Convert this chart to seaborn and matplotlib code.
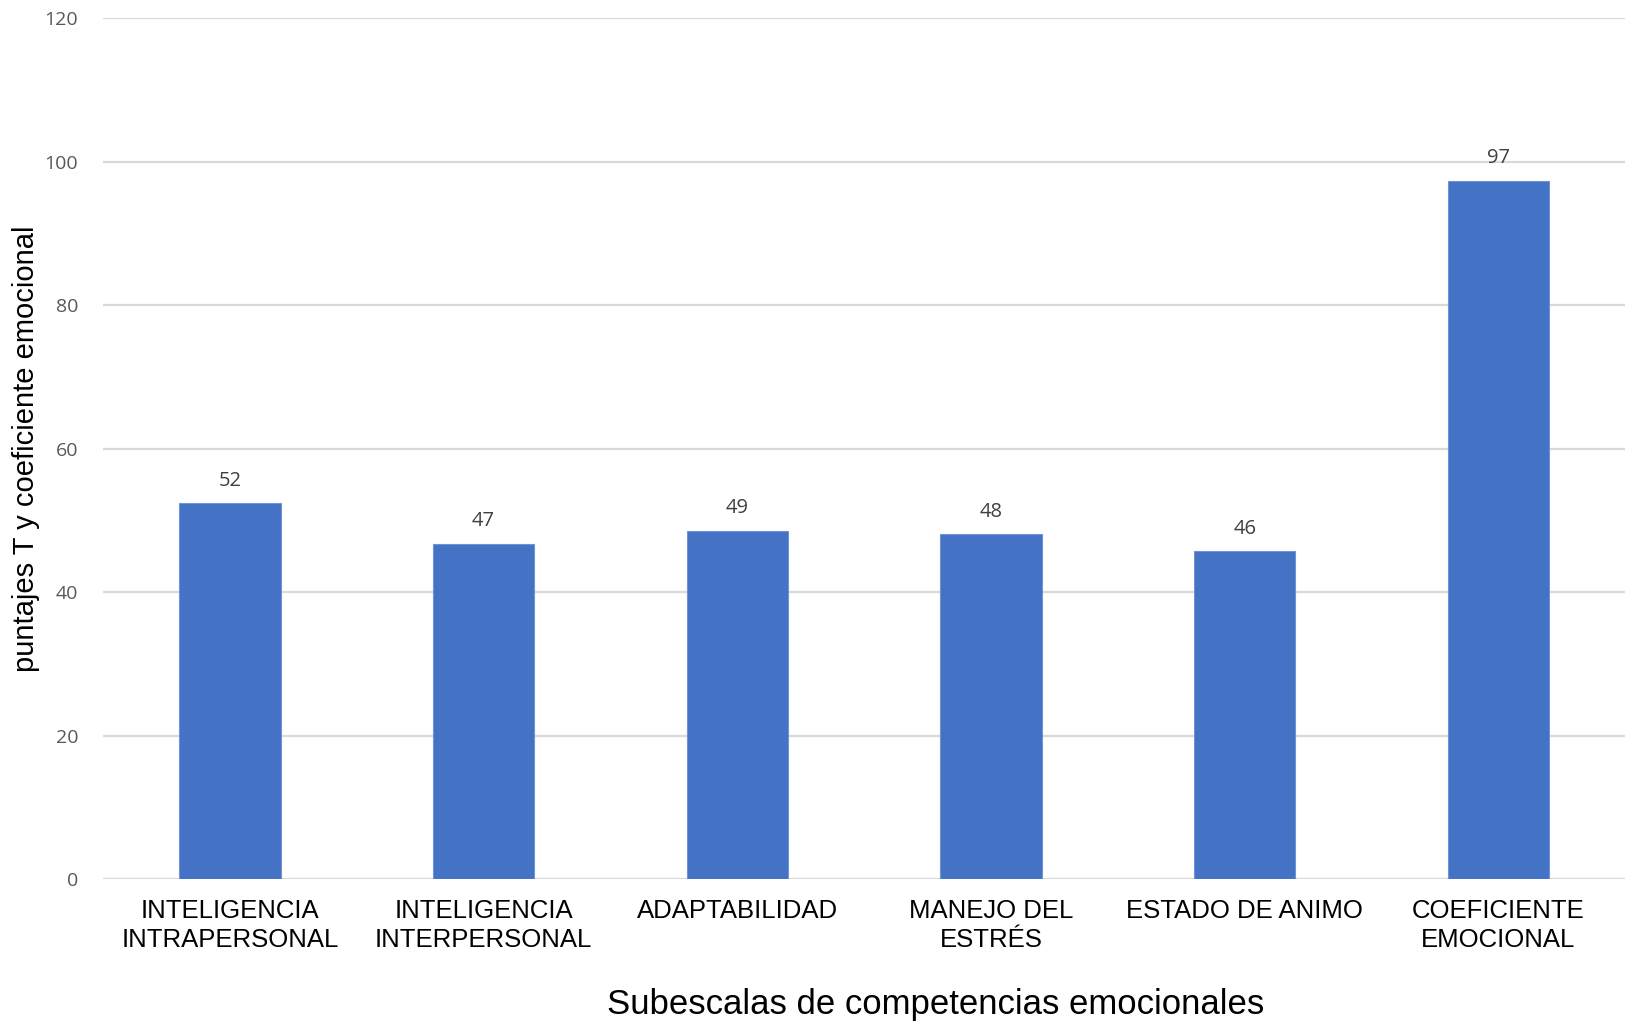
import matplotlib
matplotlib.use("Agg")
import matplotlib.pyplot as plt
import seaborn as sns
import pandas as pd

# Puntajes por subescala
categorias = [
    "INTELIGENCIA\nINTRAPERSONAL",
    "INTELIGENCIA\nINTERPERSONAL",
    "ADAPTABILIDAD",
    "MANEJO DEL\nESTRÉS",
    "ESTADO DE ANIMO",
    "COEFICIENTE\nEMOCIONAL",
]
puntajes = [52.4, 46.8, 48.6, 48.1, 45.7, 97.4]
marcas_y = [0, 20, 40, 60, 80, 100, 120]

df = pd.DataFrame({"subescala": categorias, "puntaje": puntajes})

sns.set_theme(style="white")
plt.rcParams["font.family"] = ["Liberation Sans", "DejaVu Sans"]

fig = plt.figure(figsize=(16.35, 10.26), dpi=100)
ax = fig.add_axes([0.063, 0.143, 0.931, 0.839])

sns.barplot(data=df, x="subescala", y="puntaje", color="#4472C4",
            saturation=1, width=0.4, ax=ax, edgecolor="#6F94D6", linewidth=0.8,
            zorder=3)

ax.set_ylim(0, 120)
ax.set_yticks(marcas_y)
ax.set_xlim(-0.5, len(categorias) - 0.5)
ax.yaxis.grid(True, color="#D9D9D9", linewidth=1.6, zorder=0)
ax.xaxis.grid(False)
for s in ax.spines.values():
    s.set_visible(False)

ax.tick_params(axis="y", length=0, pad=18, labelsize=14, labelcolor="#595959")
ax.tick_params(axis="x", length=0, pad=14, labelsize=18.5, labelcolor="#000000")
for t in ax.get_yticklabels():
    t.set_fontfamily(["Open Sans", "DejaVu Sans"])
for t in ax.get_xticklabels():
    t.set_linespacing(1.3)

for barra, v in zip(ax.patches, puntajes):
    ax.annotate(f"{v:.0f}", (barra.get_x() + barra.get_width() / 2, v),
                xytext=(0, 9), textcoords="offset points", ha="center",
                va="bottom", fontsize=14.5, color="#404040",
                fontfamily=["Open Sans", "DejaVu Sans"])

ax.set_xlabel("Subescalas de competencias emocionales", fontsize=25,
              color="#000000", va="center")
ax.xaxis.set_label_coords(0.547, -0.145)
ax.set_ylabel("puntajes T y coeficiente emocional", fontsize=21,
              color="#000000", va="center")
ax.yaxis.set_label_coords(-0.0506, 0.5)

fig.savefig("out.png", dpi=100)
